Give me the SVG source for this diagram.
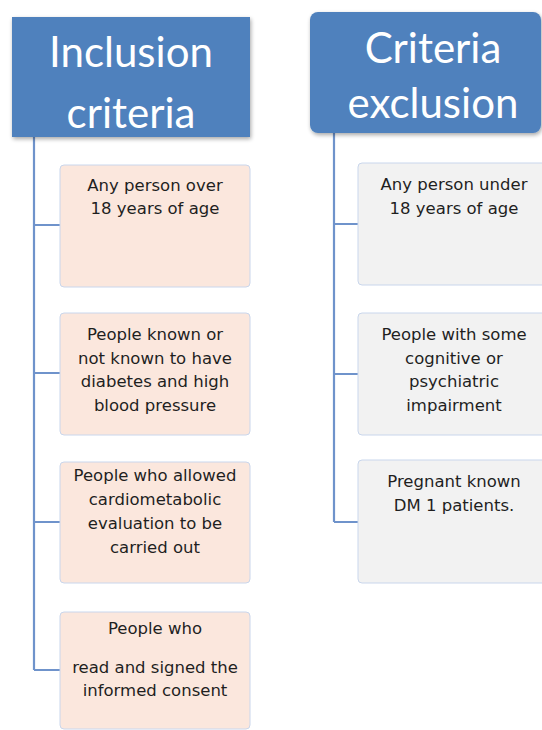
<svg xmlns="http://www.w3.org/2000/svg" width="542" height="730" viewBox="0 0 542 730">
<defs>
<filter id="sh" x="-10%" y="-10%" width="125%" height="130%">
<feGaussianBlur in="SourceAlpha" stdDeviation="2"/>
<feOffset dx="1" dy="2"/>
<feComponentTransfer><feFuncA type="linear" slope="0.35"/></feComponentTransfer>
<feMerge><feMergeNode/><feMergeNode in="SourceGraphic"/></feMerge>
</filter>
</defs>
<style>
.hdr{fill:#4F81BD;filter:url(#sh)}
.ht{font-family:Lato,"Open Sans",sans-serif;font-size:42px;fill:#FFFFFF;text-anchor:middle}
.inc{fill:#FBE7DD;stroke:#C9D6EC;stroke-width:1}
.exc{fill:#F2F2F2;stroke:#C9D6EC;stroke-width:1}
.bt{font-family:"DejaVu Sans",Verdana,sans-serif;font-size:16.5px;fill:#1F1F1F;text-anchor:middle}
.con{stroke:#6F93CB;stroke-width:2.2;fill:none}
</style>
<rect width="542" height="730" fill="#FFFFFF"/>
<g id="connectors">
<path class="con" d="M34 137 V670 M34 225 H60 M34 373 H60 M34 522 H60 M34 670 H60"/>
<path class="con" d="M334 133 V522 M334 224 H358 M334 374 H358 M334 522 H358"/>
</g>
<g id="inclusion-header">
<rect class="hdr" x="12" y="17" width="238" height="120"/>
<text class="ht" x="131" y="67">Inclusion</text>
<text class="ht" x="131" y="128">criteria</text>
</g>
<g id="exclusion-header">
<rect class="hdr" x="310" y="12" width="231" height="121" rx="8"/>
<text class="ht" x="433" y="63">Criteria</text>
<text class="ht" x="433" y="118">exclusion</text>
</g>
<g id="inc1">
<rect class="inc" x="60" y="165" width="190" height="122" rx="4"/>
<text class="bt" x="155" y="191">Any person over</text>
<text class="bt" x="155" y="214">18 years of age</text>
</g>
<g id="inc2">
<rect class="inc" x="60" y="313" width="190" height="122" rx="4"/>
<text class="bt" x="155" y="340">People known or</text>
<text class="bt" x="155" y="364">not known to have</text>
<text class="bt" x="155" y="387">diabetes and high</text>
<text class="bt" x="155" y="411">blood pressure</text>
</g>
<g id="inc3">
<rect class="inc" x="60" y="462" width="190" height="121" rx="4"/>
<text class="bt" x="155" y="481">People who allowed</text>
<text class="bt" x="155" y="505">cardiometabolic</text>
<text class="bt" x="155" y="529">evaluation to be</text>
<text class="bt" x="155" y="553">carried out</text>
</g>
<g id="inc4">
<rect class="inc" x="60" y="612" width="190" height="117" rx="4"/>
<text class="bt" x="155" y="634">People who</text>
<text class="bt" x="155" y="673">read and signed the</text>
<text class="bt" x="155" y="696">informed consent</text>
</g>
<g id="exc1">
<rect class="exc" x="358" y="163" width="190" height="122" rx="4"/>
<text class="bt" x="454" y="190">Any person under</text>
<text class="bt" x="454" y="214">18 years of age</text>
</g>
<g id="exc2">
<rect class="exc" x="358" y="313" width="190" height="122" rx="4"/>
<text class="bt" x="454" y="340">People with some</text>
<text class="bt" x="454" y="364">cognitive or</text>
<text class="bt" x="454" y="387">psychiatric</text>
<text class="bt" x="454" y="411">impairment</text>
</g>
<g id="exc3">
<rect class="exc" x="358" y="460" width="190" height="123" rx="4"/>
<text class="bt" x="454" y="487">Pregnant known</text>
<text class="bt" x="454" y="511">DM 1 patients.</text>
</g>
</svg>
